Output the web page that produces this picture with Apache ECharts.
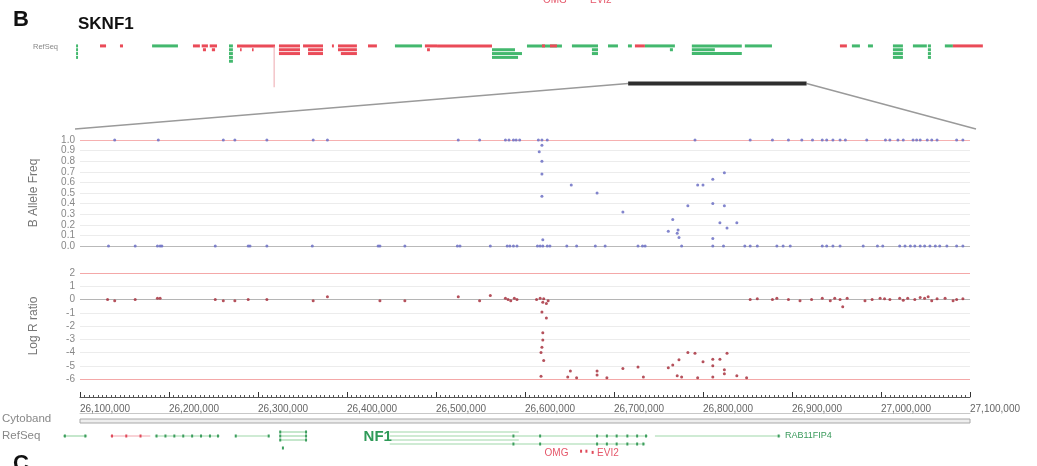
<!DOCTYPE html>
<html><head><meta charset="utf-8">
<script src="https://cdn.jsdelivr.net/npm/echarts@6/dist/echarts.min.js"></script>
<style>html,body{margin:0;padding:0;background:#fff}#c{width:1037px;height:466px}</style>
</head><body><div id="c"></div>
<script>
// ---------------- data (positions in Mb) ----------------
const regionMb = [26.1, 27.1];
const overviewMb = [23.0, 28.1];
const xTickLabels = ['26,100,000','26,200,000','26,300,000','26,400,000','26,500,000','26,600,000','26,700,000','26,800,000','26,900,000','27,000,000','27,100,000'];
const bafTickLabels = ['0.0','0.1','0.2','0.3','0.4','0.5','0.6','0.7','0.8','0.9','1.0'];
const lrrTickLabels = ['-6','-5','-4','-3','-2','-1','0','1','2'];

// overview RefSeq track: [start, end, row, strand colour G/R]
const topGenes = [
 [23.006,23.017,0,'G'],[23.006,23.017,1,'G'],[23.006,23.017,2,'G'],[23.006,23.017,3,'G'],
 [23.140,23.174,0,'R'],[23.252,23.269,0,'R'],[23.432,23.577,0,'G'],
 [23.661,23.700,0,'R'],[23.710,23.745,0,'R'],[23.755,23.796,0,'R'],[23.717,23.734,1,'R'],[23.767,23.785,1,'R'],
 [23.863,23.885,0,'G'],[23.863,23.885,1,'G'],[23.863,23.885,2,'G'],[23.863,23.885,3,'G'],[23.863,23.885,4,'G'],
 [23.908,24.121,0,'R'],[23.925,23.931,1,'R'],[23.992,23.998,1,'R'],
 [24.143,24.261,0,'R'],[24.143,24.261,1,'R'],[24.143,24.261,2,'R'],
 [24.278,24.390,0,'R'],[24.306,24.390,1,'R'],[24.306,24.390,2,'R'],
 [24.440,24.451,0,'R'],
 [24.474,24.580,0,'R'],[24.474,24.580,1,'R'],[24.490,24.580,2,'R'],
 [24.642,24.692,0,'R'],[24.793,24.945,0,'G'],
 [24.961,25.029,0,'R'],[24.973,24.989,1,'R'],[25.029,25.337,0,'R'],
 [25.337,25.466,1,'G'],[25.337,25.505,2,'G'],[25.337,25.483,3,'G'],
 [25.533,25.729,0,'G'],[25.617,25.634,0,'R'],[25.662,25.701,0,'R'],
 [25.785,25.931,0,'G'],[25.897,25.931,1,'G'],[25.897,25.931,2,'G'],
 [25.987,26.043,0,'G'],[26.099,26.121,0,'G'],[26.138,26.194,0,'R'],
 [26.194,26.362,0,'G'],[26.334,26.351,1,'G'],
 [26.457,26.737,0,'G'],[26.754,26.906,0,'G'],[26.457,26.586,1,'G'],[26.457,26.737,2,'G'],
 [27.287,27.326,0,'R'],[27.354,27.399,0,'G'],[27.444,27.472,0,'G'],
 [27.584,27.640,0,'G'],[27.584,27.640,1,'G'],[27.584,27.640,2,'G'],[27.584,27.640,3,'G'],
 [27.696,27.774,0,'G'],
 [27.780,27.797,0,'G'],[27.780,27.797,1,'G'],[27.780,27.797,2,'G'],[27.780,27.797,3,'G'],
 [27.875,27.920,0,'G'],[27.920,28.088,0,'R']
];
const topMarker = [[24.116, 0, 10.8]];

// B allele frequency: [position, BAF]
const bafPoints = [
 [26.139,1],[26.188,1],[26.261,1],[26.274,1],[26.310,1],[26.362,1],[26.378,1],[26.525,1],[26.549,1],[26.578,1],[26.582,1],[26.587,1],[26.590,1],[26.594,1],[26.615,1],[26.619,1],[26.625,1],[26.791,1],[26.853,1],[26.878,1],[26.896,1],[26.911,1],[26.923,1],[26.934,1],[26.939,1],[26.946,1],[26.954,1],[26.960,1],[26.984,1],[27.005,1],[27.010,1],[27.019,1],[27.025,1],[27.036,1],[27.040,1],[27.044,1],[27.052,1],[27.057,1],[27.063,1],[27.085,1],[27.092,1],
 [26.132,0],[26.162,0],[26.187,0],[26.190,0],[26.192,0],[26.252,0],[26.289,0],[26.291,0],[26.310,0],[26.361,0],[26.435,0],[26.437,0],[26.465,0],[26.524,0],[26.527,0],[26.561,0],[26.580,0],[26.583,0],[26.587,0],[26.591,0],[26.614,0],[26.617,0],[26.620,0],[26.625,0],[26.628,0],[26.647,0],[26.658,0],[26.679,0],[26.690,0],[26.727,0],[26.732,0],[26.735,0],[26.776,0],[26.811,0],[26.823,0],[26.847,0],[26.853,0],[26.861,0],[26.883,0],[26.890,0],[26.898,0],[26.934,0],[26.939,0],[26.946,0],[26.954,0],[26.980,0],[26.996,0],[27.002,0],[27.021,0],[27.027,0],[27.033,0],[27.038,0],[27.044,0],[27.049,0],[27.055,0],[27.061,0],[27.066,0],[27.074,0],[27.085,0],[27.092,0],
 [26.619,0.95],[26.616,0.89],[26.619,0.80],[26.619,0.68],[26.619,0.47],[26.652,0.575],[26.681,0.50],[26.710,0.32],[26.766,0.25],[26.761,0.14],[26.772,0.15],[26.773,0.08],[26.771,0.12],[26.783,0.38],[26.794,0.575],[26.800,0.575],[26.811,0.63],[26.824,0.69],[26.811,0.40],[26.824,0.38],[26.819,0.22],[26.827,0.17],[26.838,0.22],[26.811,0.07],[26.620,0.06]
];

// Log R ratio: [position, LRR]
const lrrPoints = [
 [26.131,0],[26.139,-0.1],[26.162,0],[26.187,0.1],[26.190,0.1],[26.252,0],[26.261,-0.1],[26.274,-0.1],[26.289,0],[26.310,0],[26.362,-0.1],[26.378,0.2],[26.437,-0.1],[26.465,-0.1],[26.525,0.2],[26.549,-0.1],[26.561,0.3],[26.578,0.1],[26.581,0],[26.584,-0.1],[26.588,0.1],[26.591,0],[26.613,0],[26.617,0.1],[26.620,-0.2],[26.624,-0.3],[26.626,-0.1],[26.621,0.05],
 [26.619,-0.94],[26.624,-1.4],[26.620,-2.5],[26.620,-3.05],[26.619,-3.6],[26.618,-4.0],[26.621,-4.6],[26.618,-5.8],
 [26.648,-5.85],[26.651,-5.4],[26.658,-5.9],[26.681,-5.4],[26.681,-5.7],[26.692,-5.9],[26.710,-5.2],[26.727,-5.1],[26.733,-5.85],[26.761,-5.15],[26.766,-4.95],[26.773,-4.55],[26.771,-5.75],[26.776,-5.85],[26.783,-4.0],[26.791,-4.05],[26.794,-5.9],[26.800,-4.7],[26.811,-4.5],[26.811,-5.0],[26.811,-5.85],[26.819,-4.5],[26.824,-5.3],[26.824,-5.6],[26.827,-4.05],[26.838,-5.75],[26.849,-5.9],
 [26.853,0],[26.861,0.05],[26.878,0],[26.883,0.1],[26.896,0],[26.909,-0.1],[26.922,0],[26.934,0.1],[26.943,-0.1],[26.948,0.1],[26.954,0],[26.957,-0.55],[26.962,0.1],[26.982,-0.1],[26.990,0],[26.999,0.1],[27.004,0.05],[27.010,0],[27.021,0.1],[27.025,-0.05],[27.030,0.1],[27.038,0],[27.044,0.15],[27.049,0.1],[27.053,0.2],[27.057,-0.1],[27.063,0.05],[27.072,0.1],[27.081,-0.1],[27.085,0],[27.092,0.05]
];

// zoomed RefSeq track: introns [start, end, row, colour], exons [pos, row, colour]
const bottomGenes = [
 [26.081,26.108,1,'G'],[26.134,26.179,1,'R'],[26.184,26.257,1,'G'],[26.274,26.313,1,'G'],
 [26.324,26.355,0,'G'],[26.324,26.355,1,'G'],[26.324,26.355,2,'G'],
 [26.448,26.593,0,'G'],[26.448,26.738,1,'G'],[26.448,26.593,2,'G'],[26.448,26.735,3,'G'],
 [26.746,26.887,1,'G']
];
const bottomExons = [
 [26.083,1,'G'],[26.106,1,'G'],[26.136,1,'R'],[26.152,1,'R'],[26.168,1,'R'],
 [26.186,1,'G'],[26.196,1,'G'],[26.206,1,'G'],[26.216,1,'G'],[26.226,1,'G'],[26.236,1,'G'],[26.246,1,'G'],[26.255,1,'G'],
 [26.275,1,'G'],[26.312,1,'G'],
 [26.325,0,'G'],[26.354,0,'G'],[26.325,1,'G'],[26.354,1,'G'],[26.325,2,'G'],[26.354,2,'G'],[26.328,4,'G'],
 [26.587,1,'G'],[26.617,1,'G'],[26.681,1,'G'],[26.692,1,'G'],[26.703,1,'G'],[26.715,1,'G'],[26.726,1,'G'],[26.736,1,'G'],
 [26.587,3,'G'],[26.617,3,'G'],[26.681,3,'G'],[26.692,3,'G'],[26.703,3,'G'],[26.715,3,'G'],[26.726,3,'G'],[26.733,3,'G'],
 [26.885,1,'G'],[26.663,4.8,'R'],[26.669,4.8,'R'],[26.676,5.1,'R']
];
const bottomLabels = [['NF1',26.4505,1.3,'nf1'],['RAB11FIP4',26.892,1,'small'],['OMG',26.622,5.25,'red'],['EVI2',26.681,5.25,'red']];

// ---------------- chart ----------------
const GREEN='#43b86e', RED='#ea4b58';
const FONT='Liberation Sans, Arial, sans-serif';
const chart = echarts.init(document.getElementById('c'), null, {renderer:'canvas'});

function colorOf(c){return c==='G'?GREEN:RED;}

const option = {
 animation:false,
 textStyle:{fontFamily:FONT},
 grid:[
  {left:75,width:910,top:44,height:44},
  {left:80,width:890,top:140,height:106},
  {left:80,width:890,top:273,height:106},
  {left:80,width:890,top:419,height:4,show:true,borderColor:'#a8a8a8',borderWidth:1,backgroundColor:'#eeeeee'},
  {left:80,width:890,top:430,height:24}
 ],
 xAxis:[
  {gridIndex:0,type:'value',min:overviewMb[0],max:overviewMb[1],show:false},
  {gridIndex:1,type:'value',min:regionMb[0],max:regionMb[1],interval:0.1,axisLine:{show:false,onZero:false},axisTick:{show:false},axisLabel:{show:false},splitLine:{show:false}},
  {gridIndex:2,type:'value',min:regionMb[0],max:regionMb[1],interval:0.1,position:'bottom',offset:18,
   axisLine:{show:true,onZero:false,lineStyle:{color:'#555',width:1}},
   axisTick:{show:true,inside:true,length:5,lineStyle:{color:'#333'}},
   minorTick:{show:true,splitNumber:20,length:2,lineStyle:{color:'#555'}},
   axisLabel:{show:true,align:'left',margin:7,fontSize:10,color:'#666',showMaxLabel:true,showMinLabel:true,
     formatter:(v)=>xTickLabels[Math.round((v-regionMb[0])*10)]},
   splitLine:{show:false}},
  {gridIndex:2,type:'value',min:regionMb[0],max:regionMb[1],position:'bottom',offset:34,
   axisLine:{show:true,onZero:false,lineStyle:{color:'#c8c8c8',width:1}},axisTick:{show:false},axisLabel:{show:false},splitLine:{show:false}},
  {gridIndex:3,type:'value',min:regionMb[0],max:regionMb[1],show:false},
  {gridIndex:4,type:'value',min:regionMb[0],max:regionMb[1],show:false}
 ],
 yAxis:[
  {gridIndex:0,type:'value',min:-0.5,max:11,inverse:true,show:false},
  {gridIndex:1,type:'value',min:0,max:1,interval:0.1,name:'B Allele Freq',nameLocation:'middle',nameGap:40,
   nameTextStyle:{fontSize:12,color:'#777'},
   axisLine:{show:false,onZero:false},axisTick:{show:false},
   axisLabel:{fontSize:10,lineHeight:9,color:'#888',margin:5,showMinLabel:true,showMaxLabel:true,hideOverlap:false,
     formatter:(v)=>bafTickLabels[Math.round(v*10)]},
   splitLine:{show:true,showMinLine:true,showMaxLine:true,lineStyle:{width:1,color:['#b9b9b9','#ececec','#ececec','#ececec','#ececec','#ececec','#ececec','#ececec','#ececec','#ececec','#f6b0b0']}}},
  {gridIndex:2,type:'value',min:-6,max:2,interval:1,name:'Log R ratio',nameLocation:'middle',nameGap:40,
   nameTextStyle:{fontSize:12,color:'#777'},
   axisLine:{show:false,onZero:false},axisTick:{show:false},
   axisLabel:{fontSize:10,lineHeight:9,color:'#888',margin:5,showMinLabel:true,showMaxLabel:true,hideOverlap:false,
     formatter:(v)=>lrrTickLabels[Math.round(v+6)]},
   splitLine:{show:true,showMinLine:true,showMaxLine:true,lineStyle:{width:1,color:['#f4a8a8','#ececec','#ececec','#ececec','#ececec','#ececec','#b5b5b5','#ececec','#f4a8a8']}}},
  {gridIndex:3,type:'value',min:0,max:1,show:false},
  {gridIndex:4,type:'value',min:-0.5,max:5.5,inverse:true,show:false}
 ],
 series:[
  {type:'custom',xAxisIndex:0,yAxisIndex:0,clip:false,
   data:topGenes.map(g=>({value:[g[0],g[1],g[2]],itemStyle:{color:colorOf(g[3])}})),
   renderItem:(p,api)=>{const s=api.coord([api.value(0),api.value(2)]);const e=api.coord([api.value(1),api.value(2)]);
     return {type:'rect',shape:{x:s[0],y:s[1]-1.5,width:Math.max(e[0]-s[0],1.6),height:3},style:{fill:api.visual('color')}};}},
  {type:'custom',xAxisIndex:0,yAxisIndex:0,clip:false,data:topMarker,
   renderItem:(p,api)=>{const s=api.coord([api.value(0),api.value(1)]);const e=api.coord([api.value(0),api.value(2)]);
     return {type:'line',shape:{x1:s[0],y1:s[1],x2:e[0],y2:e[1]},style:{stroke:'#e89098',lineWidth:0.8}};}},
  {type:'custom',xAxisIndex:0,yAxisIndex:0,clip:false,data:[regionMb],
   renderItem:(p,api)=>{const s=api.coord([api.value(0),9.8]);const e=api.coord([api.value(1),9.8]);
     return {type:'rect',shape:{x:s[0],y:s[1]-2,width:e[0]-s[0],height:4},style:{fill:'#2e2e2e'}};}},
  {type:'scatter',xAxisIndex:1,yAxisIndex:1,data:bafPoints,symbol:'circle',symbolSize:3,
   itemStyle:{color:'#6c70c4',opacity:0.85},silent:true},
  {type:'scatter',xAxisIndex:2,yAxisIndex:2,data:lrrPoints,symbol:'circle',symbolSize:3,
   itemStyle:{color:'#a83240',opacity:0.85},silent:true},
  {type:'custom',xAxisIndex:5,yAxisIndex:4,clip:false,
   data:bottomGenes.map(g=>({value:[g[0],g[1],g[2]],itemStyle:{color:g[3]==='G'?'#9fd8aa':'#f2a6ad'}})),
   renderItem:(p,api)=>{const s=api.coord([api.value(0),api.value(2)]);const e=api.coord([api.value(1),api.value(2)]);
     return {type:'rect',shape:{x:s[0],y:s[1]-0.6,width:e[0]-s[0],height:1.2},style:{fill:api.visual('color')}};}},
  {type:'custom',xAxisIndex:5,yAxisIndex:4,clip:false,
   data:bottomExons.map(g=>({value:[g[0],g[1]],itemStyle:{color:g[2]==='G'?'#3d9e5e':'#e04a5a'}})),
   renderItem:(p,api)=>{const s=api.coord([api.value(0),api.value(1)]);
     return {type:'rect',shape:{x:s[0]-1,y:s[1]-1.5,width:2,height:3},style:{fill:api.visual('color')}};}},
  {type:'custom',xAxisIndex:5,yAxisIndex:4,clip:false,
   data:bottomLabels.map(l=>({value:[l[1],l[2]],name:l[0]})),
   renderItem:(p,api)=>{const d=bottomLabels[p.dataIndex];const s=api.coord([api.value(0),api.value(1)]);
     const st = d[3]==='nf1'?{fill:'#2f9a58',fontSize:15,fontWeight:'bold',align:'right'}
              : d[3]==='red'?{fill:'#e5576a',fontSize:10,fontWeight:'normal',align:'left'}
              : {fill:'#3a9a5c',fontSize:9,fontWeight:'normal',align:'left'};
     return {type:'text',x:s[0],y:s[1],style:Object.assign({text:d[0],verticalAlign:'middle',fontFamily:FONT},st)};}}
 ]
};
chart.setOption(option);

// connector lines between overview highlight and detail panels
const a = chart.convertToPixel({xAxisIndex:0,yAxisIndex:0},[regionMb[0],9.8]);
const b = chart.convertToPixel({xAxisIndex:0,yAxisIndex:0},[regionMb[1],9.8]);
const tl = chart.convertToPixel({xAxisIndex:1,yAxisIndex:1},[regionMb[0],1]);
const tr = chart.convertToPixel({xAxisIndex:1,yAxisIndex:1},[regionMb[1],1]);
chart.setOption({graphic:[
 {type:'line',shape:{x1:a[0],y1:a[1],x2:tl[0]-5,y2:tl[1]-11},style:{stroke:'#9a9a9a',lineWidth:1.5},z:1},
 {type:'line',shape:{x1:b[0],y1:b[1],x2:tr[0]+6,y2:tr[1]-11},style:{stroke:'#9a9a9a',lineWidth:1.5},z:1},
 {type:'text',left:13,top:9,style:{text:'B',fontSize:22,fontWeight:'bold',fill:'#111',fontFamily:FONT}},
 {type:'text',left:78,top:16,style:{text:'SKNF1',fontSize:17,fontWeight:'bold',fill:'#111',fontFamily:FONT}},
 {type:'text',left:33,top:43,style:{text:'RefSeq',fontSize:7.5,fill:'#888',fontFamily:FONT}},
 {type:'text',left:2,top:413,style:{text:'Cytoband',fontSize:11.5,fill:'#888',fontFamily:FONT}},
 {type:'text',left:2,top:430,style:{text:'RefSeq',fontSize:11.5,fill:'#888',fontFamily:FONT}},
 {type:'text',left:543,top:-5,style:{text:'OMG',fontSize:10,fill:'#e5576a',fontFamily:FONT}},
 {type:'text',left:590,top:-5,style:{text:'EVI2',fontSize:10,fill:'#e5576a',fontFamily:FONT}},
 {type:'text',left:13,top:453,style:{text:'C',fontSize:22,fontWeight:'bold',fill:'#111',fontFamily:FONT}}
]});
</script></body></html>
